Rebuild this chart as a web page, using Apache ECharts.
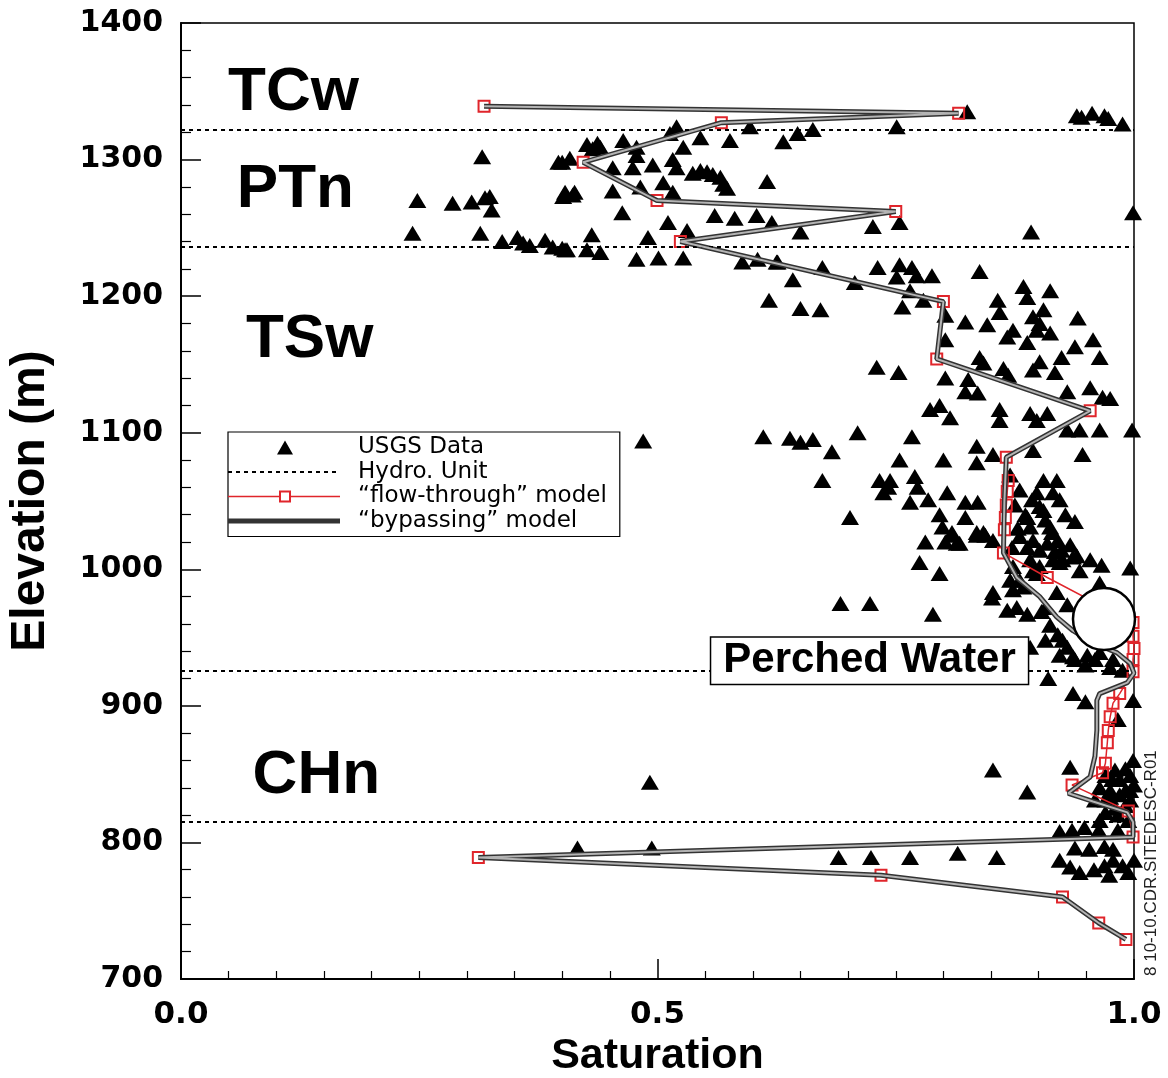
<!DOCTYPE html>
<html>
<head>
<meta charset="utf-8">
<script src="https://cdn.jsdelivr.net/npm/echarts@6/dist/echarts.min.js"></script>
<style>
  html, body { margin: 0; padding: 0; background: #fff; }
  #chart { width: 1168px; height: 1078px; }
</style>
</head>
<body>
<div id="chart"></div>
<script>
// Elevations (m) of the hydrogeologic unit contacts
const hydroUnitTops = [1322, 1236, 926, 815];

// Unit names placed inside the plot: [saturation, elevation, name]
const unitLabels = [
  [0.118, 1349, 'TCw'],
  [0.120, 1278, 'PTn'],
  [0.135, 1168, 'TSw'],
  [0.142, 849, 'CHn']
];

// USGS measured saturation vs elevation: [saturation, elevation]
const usgsTCw = [
  [0.825, 1335], [0.945, 1331], [0.940, 1332], [0.956, 1334], [0.969, 1332], [0.973, 1330],
  [0.988, 1326], [0.751, 1324], [0.520, 1324], [0.597, 1324], [0.464, 1314], [0.576, 1314],
  [0.632, 1313], [0.647, 1319], [0.663, 1322], [0.545, 1316], [0.513, 1319]
];
const usgsPTn = [
  [0.426, 1311], [0.432, 1308], [0.440, 1309], [0.437, 1312], [0.408, 1301], [0.400, 1298],
  [0.478, 1309], [0.527, 1309], [0.478, 1303], [0.453, 1294], [0.474, 1294], [0.495, 1296],
  [0.516, 1300], [0.520, 1294], [0.537, 1290], [0.545, 1292], [0.552, 1291], [0.558, 1289],
  [0.566, 1287], [0.569, 1282], [0.573, 1279], [0.615, 1284], [0.403, 1276], [0.413, 1276],
  [0.453, 1277], [0.482, 1280], [0.506, 1283], [0.516, 1276], [0.463, 1261], [0.511, 1254],
  [0.560, 1259], [0.581, 1257], [0.604, 1259], [0.620, 1254], [0.650, 1247], [0.726, 1251],
  [0.754, 1254], [0.431, 1245], [0.490, 1243], [0.531, 1248], [0.403, 1234], [0.426, 1234],
  [0.440, 1232], [0.478, 1227], [0.501, 1228], [0.527, 1228], [0.589, 1225], [0.605, 1227],
  [0.626, 1225], [0.316, 1302], [0.248, 1270], [0.285, 1268], [0.305, 1269], [0.319, 1272],
  [0.324, 1273], [0.326, 1263], [0.243, 1246], [0.314, 1246], [0.337, 1240], [0.353, 1243],
  [0.359, 1239], [0.366, 1237], [0.382, 1241], [0.390, 1236], [0.400, 1235], [0.405, 1234],
  [0.396, 1298], [0.401, 1273], [0.411, 1274], [0.892, 1247], [0.999, 1261]
];
const usgsTSw = [
  [0.625, 1225], [0.673, 1221], [0.642, 1212], [0.617, 1197], [0.650, 1191], [0.671, 1190],
  [0.707, 1210], [0.731, 1221], [0.754, 1223], [0.767, 1221], [0.772, 1215], [0.788, 1215],
  [0.751, 1214], [0.757, 1192], [0.765, 1204], [0.779, 1197], [0.838, 1218], [0.802, 1186],
  [0.802, 1168], [0.730, 1148], [0.753, 1144], [0.802, 1140], [0.823, 1181], [0.846, 1179],
  [0.857, 1197], [0.859, 1188], [0.884, 1207], [0.888, 1199], [0.912, 1204], [0.894, 1185],
  [0.901, 1180], [0.898, 1175], [0.905, 1190], [0.941, 1184], [0.867, 1170], [0.873, 1175],
  [0.888, 1166], [0.912, 1173], [0.917, 1144], [0.924, 1155], [0.938, 1163], [0.957, 1168],
  [0.964, 1155], [0.838, 1155], [0.842, 1151], [0.863, 1147], [0.868, 1142], [0.826, 1139],
  [0.823, 1130], [0.836, 1129], [0.894, 1146], [0.901, 1152], [0.954, 1133], [0.930, 1130],
  [0.967, 1126], [0.975, 1125], [0.786, 1117], [0.796, 1120], [0.807, 1111], [0.859, 1117],
  [0.859, 1109], [0.891, 1114], [0.898, 1109], [0.909, 1114], [0.930, 1102], [0.943, 1102],
  [0.964, 1102], [0.998, 1102], [0.611, 1097], [0.639, 1096], [0.650, 1093], [0.663, 1095],
  [0.710, 1100], [0.767, 1097], [0.683, 1086], [0.754, 1080], [0.800, 1080], [0.835, 1090],
  [0.835, 1078], [0.852, 1084], [0.894, 1087], [0.946, 1084], [0.485, 1094], [0.673, 1065],
  [0.733, 1065], [0.744, 1065], [0.742, 1060], [0.737, 1056], [0.770, 1068], [0.773, 1060],
  [0.765, 1049], [0.784, 1051], [0.804, 1056], [0.823, 1049], [0.836, 1049], [0.796, 1040],
  [0.799, 1031], [0.823, 1038], [0.835, 1027], [0.810, 1025], [0.781, 1020], [0.802, 1020],
  [0.702, 1038], [0.905, 1065], [0.919, 1065], [0.898, 1056], [0.893, 1051], [0.901, 1046],
  [0.915, 1056], [0.888, 1038], [0.905, 1043], [0.912, 1031], [0.891, 1031], [0.938, 1035],
  [0.880, 1024], [0.894, 1021], [0.775, 1005], [0.796, 997], [0.817, 1019], [0.809, 1027],
  [0.852, 1021], [0.842, 1027], [0.888, 1016], [0.917, 1013], [0.940, 1010], [0.925, 1007],
  [0.966, 1003], [0.996, 1001], [0.964, 990], [0.873, 1002], [0.880, 992], [0.898, 997],
  [0.852, 983], [0.814, 1019], [0.835, 1025], [0.844, 1025], [0.723, 975], [0.789, 967],
  [0.851, 979], [0.867, 970], [0.877, 972], [0.888, 967], [0.903, 969], [0.870, 992],
  [0.873, 985], [0.884, 987], [0.894, 999], [0.901, 1002], [0.891, 1007], [0.915, 1007],
  [0.922, 1005], [0.924, 1014], [0.936, 1009], [0.909, 1019], [0.914, 1027], [0.919, 983],
  [0.907, 972], [0.930, 974], [0.692, 975], [0.925, 948], [0.930, 943], [0.936, 936],
  [0.951, 937], [0.964, 939], [0.978, 934], [0.988, 926], [0.891, 943],
  [0.870, 1069], [0.880, 1058], [0.875, 1047], [0.886, 1040], [0.878, 1030], [0.907, 1036],
  [0.922, 1051], [0.928, 1040], [0.920, 1021], [0.933, 1018], [0.901, 1014], [0.872, 1016],
  [0.943, 999], [0.954, 1007], [0.912, 959], [0.920, 952], [0.907, 948], [0.938, 934],
  [0.922, 937], [0.949, 930], [0.959, 934], [0.975, 928]
];
const usgsCHn = [
  [0.910, 920], [0.936, 909], [0.949, 903], [0.999, 904], [0.983, 890], [0.852, 853],
  [0.888, 837], [0.933, 855], [0.999, 860], [0.970, 849], [0.980, 853], [0.985, 846],
  [0.991, 854], [0.996, 849], [0.975, 838], [0.985, 835], [0.996, 838], [1.000, 842],
  [0.970, 831], [0.991, 827], [0.980, 825], [0.996, 831], [0.959, 831], [0.975, 833],
  [0.964, 840], [0.977, 846], [0.991, 838], [0.983, 820], [0.970, 822], [0.994, 816],
  [0.964, 816],
  [0.492, 844], [0.416, 796], [0.494, 796], [0.690, 789], [0.724, 789], [0.765, 789],
  [0.815, 792], [0.856, 789], [0.922, 808], [0.935, 809], [0.948, 811], [0.963, 809],
  [0.983, 809], [0.938, 796], [0.953, 795], [0.969, 797], [0.978, 795], [0.922, 787],
  [0.933, 782], [0.943, 778], [0.958, 780], [0.969, 783], [0.978, 787], [0.988, 783],
  [1.000, 787], [0.994, 778], [0.974, 776]
];

// "flow-through" model profile: [saturation, elevation]
const flowThrough = [
  [0.318, 1339], [0.816, 1334], [0.567, 1327], [0.422, 1298], [0.4995, 1270], [0.750, 1262],
  [0.524, 1240], [0.800, 1196], [0.793, 1154], [0.954, 1116], [0.866, 1082], [0.868, 1065],
  [0.867, 1057], [0.866, 1047], [0.865, 1038], [0.864, 1029], [0.863, 1012], [0.909, 994],
  [0.999, 961], [0.999, 951], [1.000, 942], [0.999, 934], [0.999, 925], [0.985, 909],
  [0.978, 902], [0.975, 892], [0.973, 882], [0.972, 873], [0.970, 858], [0.967, 851],
  [0.935, 842], [0.994, 823], [0.999, 804], [0.312, 789], [0.7345, 776], [0.925, 760],
  [0.963, 741], [0.9915, 729]
];

// "bypassing" model profile: [saturation, elevation]
const bypassing = [
  [0.318, 1339], [0.816, 1334], [0.567, 1327], [0.422, 1298], [0.4995, 1270], [0.750, 1262],
  [0.524, 1240], [0.800, 1196], [0.793, 1154], [0.954, 1116], [0.866, 1082], [0.864, 1050],
  [0.863, 1012], [0.877, 994], [0.901, 980], [0.919, 965], [0.936, 955], [0.957, 946],
  [0.982, 939], [0.996, 931], [1.000, 924], [0.993, 917], [0.964, 909], [0.961, 904],
  [0.961, 882], [0.959, 863], [0.954, 848], [0.931, 836], [0.957, 830], [0.993, 822],
  [0.999, 815], [0.999, 804], [0.312, 789], [0.7345, 776], [0.925, 760], [0.963, 741],
  [0.9915, 729]
];

// Perched-water marker and its callout
const perchedWater = [[0.9685, 963.6]];
const perchedLabel = [[0.7225, 933, 'Perched Water']];

const usgsData = usgsTCw.concat(usgsPTn, usgsTSw, usgsCHn);

const FONT = 'Liberation Sans, Arial, sans-serif';
const WIDE = 'DejaVu Sans, Verdana, sans-serif';
const FLOW = '\u201cflow-through\u201d model';
const BYPASS = '\u201cbypassing\u201d model';

// Legend icons as paths; the two zero-area corner stubs fix the icon box at 125 x 14
const ICON_W = 125, LINE_END = 112, MID = 57;
const frame = 'M0,0 L0.01,0 Z M' + ICON_W + ',14 L' + (ICON_W - 0.01) + ',14 Z ';
const triangleIcon = 'path://' + frame + 'M' + (MID - 8) + ',14 L' + MID + ',0 L' + (MID + 8) + ',14 Z';
let dots = '';
for (let x = 0; x < LINE_END; x += 8) {
  dots += 'M' + x + ',6 L' + (x + 4) + ',6 L' + (x + 4) + ',8 L' + x + ',8 Z ';
}
const dottedIcon = 'path://' + frame + dots;
const flowIcon = 'path://' + frame +
  'M0,6.2 L' + (MID - 6) + ',6.2 L' + (MID - 6) + ',7.8 L0,7.8 Z ' +
  'M' + (MID + 6) + ',6.2 L' + LINE_END + ',6.2 L' + LINE_END + ',7.8 L' + (MID + 6) + ',7.8 Z ' +
  'M' + (MID - 6) + ',1 L' + (MID + 6) + ',1 L' + (MID + 6) + ',13 L' + (MID - 6) + ',13 Z ' +
  'M' + (MID - 4) + ',3 L' + (MID - 4) + ',11 L' + (MID + 4) + ',11 L' + (MID + 4) + ',3 Z';
const bypassIcon = 'path://' + frame + 'M0,4.5 L' + LINE_END + ',4.5 L' + LINE_END + ',9.5 L0,9.5 Z';

const chart = echarts.init(document.getElementById('chart'), null, { renderer: 'canvas' });

chart.setOption({
  animation: false,
  backgroundColor: '#fff',
  grid: {
    left: 181, top: 23, right: 34, bottom: 99,
    containLabel: false, outerBoundsMode: 'none',
    show: true, borderColor: '#000', borderWidth: 1.5, backgroundColor: '#fff'
  },
  legend: {
    data: [
      { name: 'USGS Data', icon: triangleIcon, itemStyle: { color: '#000' } },
      { name: 'Hydro. Unit', icon: dottedIcon, itemStyle: { color: '#000' } },
      { name: FLOW, icon: flowIcon, itemStyle: { color: '#e0252b', borderWidth: 0 } },
      { name: BYPASS, icon: bypassIcon, itemStyle: { color: '#333' } }
    ],
    orient: 'vertical',
    left: 228, top: 432,
    padding: [4, 13, 4, 0],
    itemWidth: ICON_W, itemHeight: 14, itemGap: 1.5,
    symbolKeepAspect: true,
    borderColor: '#000', borderWidth: 1.2, backgroundColor: '#fff',
    selectedMode: false,
    textStyle: { fontFamily: WIDE, fontSize: 23, color: '#000', lineHeight: 20 }
  },
  xAxis: {
    type: 'value', min: 0, max: 1, interval: 0.5,
    axisLine: { show: true, onZero: false, lineStyle: { color: '#000', width: 2 } },
    axisTick: { show: true, inside: true, length: 20, lineStyle: { color: '#000', width: 1.5 } },
    minorTick: { show: true, splitNumber: 10, length: 8, lineStyle: { color: '#000', width: 1.2 } },
    splitLine: { show: false },
    axisLabel: {
      formatter: v => v.toFixed(1), fontFamily: WIDE, fontWeight: 'bold',
      fontSize: 31, color: '#000', margin: 20
    },
    name: 'Saturation', nameLocation: 'middle', nameGap: 56,
    nameTextStyle: { fontFamily: FONT, fontWeight: 'bold', fontSize: 43, color: '#000' }
  },
  yAxis: {
    type: 'value', min: 700, max: 1400, interval: 100,
    axisLine: { show: true, onZero: false, lineStyle: { color: '#000', width: 2 } },
    axisTick: { show: true, inside: true, length: 20, lineStyle: { color: '#000', width: 1.5 } },
    minorTick: { show: true, splitNumber: 5, length: 10, lineStyle: { color: '#000', width: 1.2 } },
    splitLine: { show: false },
    axisLabel: {
      formatter: v => String(v), fontFamily: WIDE, fontWeight: 'bold',
      fontSize: 30, color: '#000', margin: 18
    },
    name: 'Elevation (m)', nameLocation: 'middle', nameGap: 126,
    nameTextStyle: { fontFamily: FONT, fontWeight: 'bold', fontSize: 48, color: '#000' }
  },
  series: [
    {
      name: 'Hydro. Unit', type: 'line', data: [], z: 1,
      symbol: 'none',
      lineStyle: { color: '#000', width: 2, type: [4, 4] },
      itemStyle: { color: '#000' },
      markLine: {
        silent: true, symbol: 'none', animation: false,
        label: { show: false },
        lineStyle: { color: '#000', width: 2, type: [4, 4] },
        data: hydroUnitTops.map(e => ({ yAxis: e }))
      }
    },
    {
      name: 'USGS Data', type: 'scatter', data: usgsData, z: 2,
      symbol: 'triangle', symbolSize: [18, 15],
      itemStyle: { color: '#000', opacity: 1 }
    },
    {
      name: FLOW, type: 'line', data: flowThrough, z: 3,
      symbol: 'rect', symbolSize: 11, showSymbol: true,
      lineStyle: { color: '#e0252b', width: 1.5 },
      itemStyle: { color: 'rgba(255,255,255,0)', borderColor: '#e0252b', borderWidth: 2 }
    },
    {
      name: BYPASS, type: 'line', data: bypassing, z: 4,
      symbol: 'none',
      lineStyle: { color: '#333', width: 5 },
      itemStyle: { color: '#333' }
    },
    {
      name: 'bypassing-core', type: 'line', data: bypassing, z: 5,
      symbol: 'none', silent: true,
      lineStyle: { color: '#b4b4b4', width: 2 }
    },
    {
      name: 'perched', type: 'scatter', data: perchedWater, z: 6,
      symbol: 'circle', symbolSize: 62, silent: true,
      itemStyle: { color: '#fff', borderColor: '#000', borderWidth: 2.5, opacity: 1 }
    },
    {
      name: 'perchedLabel', type: 'scatter', data: perchedLabel, z: 7,
      symbolSize: 1, silent: true,
      itemStyle: { color: 'rgba(0,0,0,0)', opacity: 1 },
      label: {
        show: true, position: 'inside', formatter: p => p.value[2],
        fontFamily: FONT, fontWeight: 'bold', fontSize: 42, color: '#000',
        backgroundColor: '#fff', borderColor: '#000', borderWidth: 1.5,
        padding: [3, 12, 1, 12], lineHeight: 42
      }
    },
    {
      name: 'units', type: 'scatter', data: unitLabels, z: 7,
      symbolSize: 1, silent: true,
      itemStyle: { color: 'rgba(0,0,0,0)', opacity: 1 },
      label: {
        show: true, position: 'inside', formatter: p => p.value[2],
        fontFamily: FONT, fontWeight: 'bold', fontSize: 62, color: '#000'
      }
    }
  ],
  graphic: [
    {
      type: 'text', x: 1151, y: 976, rotation: Math.PI / 2,
      style: {
        text: '8 10-10.CDR.SITEDESC-R01', fill: '#222',
        font: '17px ' + FONT, textAlign: 'left', textVerticalAlign: 'middle'
      }
    }
  ]
});
</script>
</body>
</html>
